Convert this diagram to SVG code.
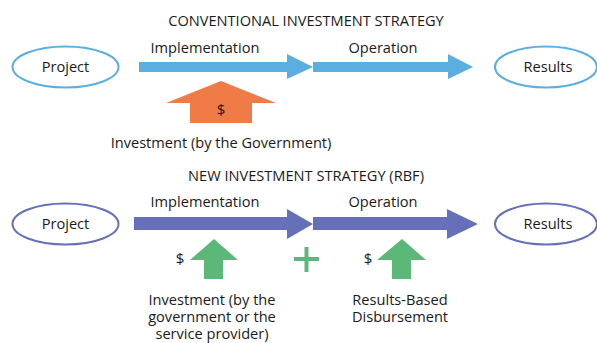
<svg xmlns="http://www.w3.org/2000/svg" width="597" height="343" viewBox="0 0 597 343">
<style>
text{font-family:"Open Sans","Noto Sans",sans-serif;font-size:14.6px;fill:#1a1a1a;text-anchor:middle}
.e1{fill:#fff;stroke:#5BAEE0;stroke-width:2}
.e2{fill:#fff;stroke:#6670B8;stroke-width:2}
.blue{fill:#5BAEE0}
.purple{fill:#6670B8}
.green{fill:#5CB878}
.orange{fill:#F07B47}
</style>
<rect width="597" height="343" fill="#fff"/>
<text x="306" y="26">CONVENTIONAL INVESTMENT STRATEGY</text>
<text x="306" y="181">NEW INVESTMENT STRATEGY (RBF)</text>
<g id="project1"><ellipse class="e1" cx="65.5" cy="67" rx="53" ry="20.5"/><text x="65.5" y="72">Project</text></g>
<g id="results1"><ellipse class="e1" cx="546" cy="67" rx="51" ry="20.5"/><text x="548" y="72">Results</text></g>
<g id="project2"><ellipse class="e2" cx="65.5" cy="224" rx="53" ry="20.5"/><text x="65.5" y="229">Project</text></g>
<g id="results2"><ellipse class="e2" cx="546" cy="224" rx="51" ry="20.5"/><text x="548" y="229">Results</text></g>
<g id="connectors">
<polygon class="blue" points="139,62 287,62 287,54 313,67 287,79 287,72 139,72"/>
<polygon class="blue" points="313,62 448,62 448,54 473,67 448,79 448,72 313,72"/>
<polygon class="purple" points="134,217 287,217 287,209 313,224 287,239 287,230 134,230"/>
<polygon class="purple" points="313,217 447,217 447,209 478,224 447,239 447,230 313,230"/>
</g>
<text x="205" y="53">Implementation</text>
<text x="383" y="53">Operation</text>
<text x="205" y="207">Implementation</text>
<text x="383" y="207">Operation</text>
<g id="invest1">
<polygon class="orange" points="221,81 276,103 252,103 252,123 190,123 190,103 166,103"/>
<text x="221" y="115" style="font-size:15px">$</text>
<text x="221" y="148">Investment (by the Government)</text>
</g>
<g id="invest2">
<polygon class="green" points="214,239 238,260 223,260 223,279 204,279 204,260 190,260"/>
<text x="180" y="264" style="font-size:15px">$</text>
<text x="212" y="305"><tspan x="212">Investment (by the</tspan><tspan x="212" dy="17">government or the</tspan><tspan x="212" dy="17">service provider)</tspan></text>
</g>
<g id="plus"><rect class="green" x="294" y="257" width="25" height="4"/><rect class="green" x="304.5" y="247" width="4" height="25"/></g>
<g id="rbd">
<polygon class="green" points="402,239 426,260 411,260 411,279 392,279 392,260 377,260"/>
<text x="368" y="264" style="font-size:15px">$</text>
<text x="400" y="305"><tspan x="400">Results-Based</tspan><tspan x="400" dy="17">Disbursement</tspan></text>
</g>
</svg>
